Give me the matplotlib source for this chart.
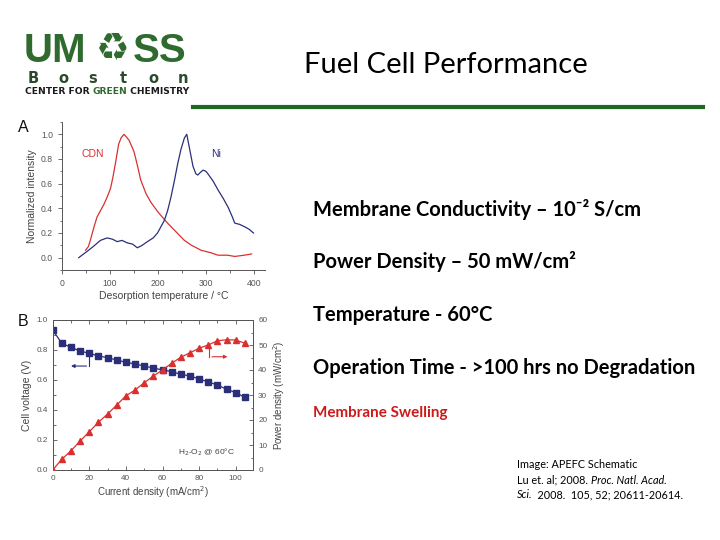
import matplotlib
matplotlib.use("Agg")
import matplotlib.pyplot as plt
from matplotlib.ticker import MultipleLocator

# ---- Data: panel A (TPD curves) ----
cdn_temp = [49, 55, 59, 66, 73, 80, 87, 94, 101, 106, 112, 118, 123, 129, 134, 140, 150, 157, 164, 175, 185, 200, 220, 240, 255, 270, 290, 310, 325, 345, 360, 380, 395]
cdn_int = [0.06, 0.09, 0.14, 0.24, 0.33, 0.38, 0.43, 0.49, 0.56, 0.65, 0.78, 0.92, 0.97, 1.0, 0.98, 0.95, 0.86, 0.75, 0.63, 0.52, 0.45, 0.37, 0.28, 0.2, 0.14, 0.1, 0.06, 0.04, 0.02, 0.02, 0.01, 0.02, 0.03]
ni_temp = [35, 45, 52, 65, 80, 94, 105, 115, 125, 136, 147, 157, 167, 178, 190, 199, 206, 213, 220, 227, 234, 241, 248, 255, 260, 266, 273, 279, 283, 288, 294, 300, 304, 315, 325, 336, 346, 355, 360, 370, 381, 390, 399]
ni_int = [0.0, 0.03, 0.05, 0.09, 0.14, 0.16, 0.15, 0.13, 0.14, 0.12, 0.11, 0.08, 0.1, 0.13, 0.16, 0.2, 0.25, 0.3, 0.38, 0.49, 0.62, 0.76, 0.88, 0.97, 1.0, 0.88, 0.74, 0.68, 0.67, 0.69, 0.71, 0.7, 0.68, 0.62, 0.55, 0.48, 0.41, 0.33, 0.28, 0.27, 0.25, 0.23, 0.2]

# ---- Data: panel B (polarisation) ----
current = [0, 5, 10, 15, 20, 25, 30, 35, 40, 45, 50, 55, 60, 65, 70, 75, 80, 85, 90, 95, 100, 105]
voltage = [0.933, 0.844, 0.818, 0.793, 0.778, 0.76, 0.749, 0.733, 0.718, 0.707, 0.693, 0.68, 0.667, 0.656, 0.638, 0.627, 0.607, 0.587, 0.567, 0.538, 0.516, 0.484]
power = [0.0, 4.3, 7.7, 11.6, 15.3, 19.1, 22.4, 26.0, 29.7, 32.0, 34.9, 37.6, 40.0, 42.7, 45.1, 46.9, 48.7, 50.0, 51.7, 52.1, 52.0, 50.7]

bullets = ["Membrane Conductivity – 10⁻² S/cm", "Power Density – 50 mW/cm²",
           "Temperature - 60°C", "Operation Time - >100 hrs no Degradation"]

RED = "#d9302f"
BLUE = "#2b2f7a"
GRAY = "#555555"
GREEN = "#2f6b2f"

plt.rcParams['font.family'] = ['Liberation Sans', 'DejaVu Sans']
fig = plt.figure(figsize=(7.2, 5.4), dpi=100)
fig.patch.set_facecolor("white")
renderer = fig.canvas.get_renderer()


def runs(x_px, y_px, parts, va="center", **kw):
    """Draw consecutive text runs starting at pixel x, at pixel y."""
    x = x_px
    for txt, extra in parts:
        opts = dict(kw)
        opts.update(extra)
        t = fig.text(x / 720, 1 - y_px / 540, txt, ha="left", va=va, **opts)
        bb = t.get_window_extent(renderer)
        x = bb.x1


# ---------------- Panel A ----------------
axA = fig.add_axes([62/720, 1-270/540, 203/720, 148/540])
axA.plot(cdn_temp, cdn_int, color=RED, lw=0.9)
axA.plot(ni_temp, ni_int, color=BLUE, lw=0.9)
axA.set_xlim(0, 423)
axA.set_ylim(-0.1, 1.1)
axA.xaxis.set_major_locator(MultipleLocator(100))
axA.xaxis.set_minor_locator(MultipleLocator(50))
axA.yaxis.set_minor_locator(MultipleLocator(0.1))
axA.set_yticks([0, 0.2, 0.4, 0.6, 0.8, 1.0])
axA.set_yticklabels(["0.0", "0.2", "0.4", "0.6", "0.8", "1.0"])
for s in ["top", "right"]:
    axA.spines[s].set_visible(False)
for s in ["left", "bottom"]:
    axA.spines[s].set_color(GRAY)
    axA.spines[s].set_linewidth(0.7)
axA.tick_params(which="both", direction="out", colors=GRAY, labelsize=6.2, width=0.6)
axA.tick_params(which="major", length=3)
axA.tick_params(which="minor", length=1.8)
axA.set_xlabel("Desorption temperature / °C", fontsize=7.5, color="#444444", labelpad=2)
axA.set_ylabel("Normalized intensity", fontsize=7.5, color="#444444", labelpad=3)
axA.text(65, 0.84, "CDN", color=RED, fontsize=7.5, ha="center", va="center")
axA.text(322, 0.84, "Ni", color=BLUE, fontsize=7.5, ha="center", va="center")
fig.text(23/720, 1-127/540, "A", fontsize=11.5, ha="center", va="center", color="#111111")

# ---------------- Panel B ----------------
axB = fig.add_axes([52.7/720, 1-470/540, 200.6/720, 150/540])
axB2 = axB.twinx()
axB.plot(current, voltage, color=BLUE, lw=0.9, marker="s", ms=4, zorder=3)
axB2.plot(current, power, color=RED, lw=0.9, marker="^", ms=4.5, zorder=3)
axB.set_xlim(0, 109.6)
axB.set_ylim(0, 1.0)
axB2.set_ylim(0, 60)
axB.xaxis.set_major_locator(MultipleLocator(20))
axB.xaxis.set_minor_locator(MultipleLocator(10))
axB.yaxis.set_major_locator(MultipleLocator(0.2))
axB.yaxis.set_minor_locator(MultipleLocator(0.1))
axB2.yaxis.set_major_locator(MultipleLocator(10))
axB2.yaxis.set_minor_locator(MultipleLocator(5))
for ax in (axB, axB2):
    for s in ax.spines.values():
        s.set_color(GRAY)
        s.set_linewidth(0.7)
axB.tick_params(which="both", direction="in", colors=GRAY, labelsize=5.9, width=0.6, top=True)
axB.tick_params(which="major", length=3)
axB.tick_params(which="minor", length=1.8)
axB2.tick_params(which="both", direction="in", colors=GRAY, labelsize=5.9, width=0.6)
axB2.tick_params(which="major", length=3)
axB2.tick_params(which="minor", length=1.8)
axB.set_xlabel("Current density (mA/cm$^2$)", fontsize=7, color="#444444", labelpad=2)
axB.set_ylabel("Cell voltage (V)", fontsize=7.5, color="#444444", labelpad=3)
axB2.set_ylabel("Power density (mW/cm$^2$)", fontsize=7, color="#444444", labelpad=3)
# bracket arrows
axB.plot([20, 20], [0.765, 0.693], color=BLUE, lw=0.8)
axB.annotate("", xy=(8.5, 0.693), xytext=(20, 0.693),
             arrowprops=dict(arrowstyle="-|>", color=BLUE, lw=0.8, mutation_scale=5))
axB2.plot([85.5, 85.5], [49.5, 45.3], color=RED, lw=0.8)
axB2.annotate("", xy=(97, 45.3), xytext=(85.5, 45.3),
              arrowprops=dict(arrowstyle="-|>", color=RED, lw=0.8, mutation_scale=5))
axB.text(84, 0.12, "H$_2$-O$_2$ @ 60°C", fontsize=6, color="#444444", ha="center", va="center")
fig.text(23/720, 1-322/540, "B", fontsize=11.5, ha="center", va="center", color="#111111")

# ---------------- Logo ----------------
fig.text(24/720, 1-62/540, "UM", fontsize=29, fontweight="bold", color=GREEN,
         ha="left", va="baseline", family="Liberation Sans")
fig.text(113/720, 1-60/540, "♻", fontsize=27, color=GREEN, ha="center", va="baseline",
         family="DejaVu Sans")
fig.text(187/720, 1-62/540, "SS", fontsize=29, fontweight="bold", color=GREEN,
         ha="right", va="baseline", family="Liberation Sans")
for i, ch in enumerate("Boston"):
    fig.text((33 + i * 30)/720, 1-83/540, ch, fontsize=10.5, fontweight="bold",
             color="#2b4a2b", ha="center", va="baseline", family="DejaVu Sans")
runs(25, 94, [("CENTER FOR ", {}), ("GREEN", {"color": GREEN}), (" CHEMISTRY", {})],
     va="baseline", fontsize=6.6, fontweight="bold", color="#1a1a1a", family="DejaVu Sans")

# ---------------- Title ----------------
fig.text(446/720, 1-65/540, "Fuel Cell Performance", fontsize=21, color="black",
         ha="center", va="center", family="Lato")
fig.add_artist(plt.Line2D([193/720, 703/720], [1-107/540, 1-107/540],
                          transform=fig.transFigure, color="#1f6a1f", lw=3))

# ---------------- Bullets ----------------
ys = [210, 262, 315, 368]
for y, t in zip(ys, bullets):
    fig.text(313/720, 1-y/540, t, fontsize=14.5, fontweight="bold", color="black",
             ha="left", va="center", family=["Lato", "DejaVu Sans"])
fig.text(313/720, 1-413/540, "Membrane Swelling", fontsize=11, fontweight="bold",
         color="#cc1a1a", ha="left", va="center", family="Lato")

# ---------------- Citation ----------------
cit = dict(fontsize=7.8, family="Lato", color="black")
runs(517, 464, [("Image: APEFC Schematic", {})], **cit)
runs(517, 480, [("Lu et. al; 2008. ", {}), ("Proc. Natl. Acad.", {"style": "italic"})], **cit)
runs(517, 495, [("Sci.", {"style": "italic"}), ("  2008.  105, 52; 20611-20614.", {})], **cit)

fig.savefig("out.png", dpi=100, facecolor="white")
